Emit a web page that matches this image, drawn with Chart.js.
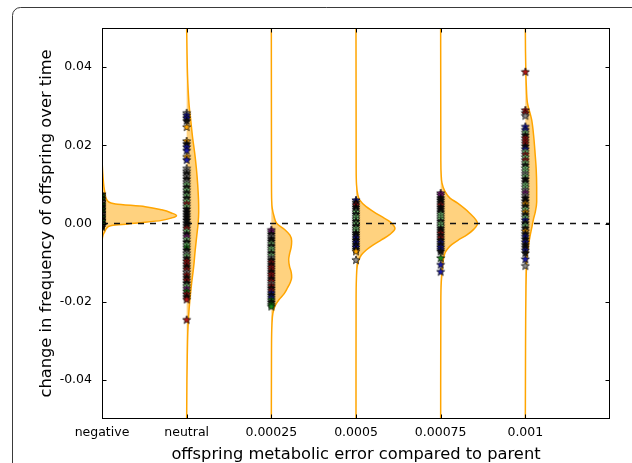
<!DOCTYPE html>
<html><head><meta charset="utf-8">
<script src="https://cdn.jsdelivr.net/npm/chart.js@4"></script>
<style>
html,body{margin:0;padding:0;background:#fff;}
#wrap{position:relative;width:632px;height:463px;overflow:hidden;background:#fff;}
canvas{position:absolute;left:0;top:0;}
</style></head><body>
<div id="wrap"><canvas id="c" width="632" height="463"></canvas></div>
<script>
// ---------------- data ----------------
const categories = ['negative','neutral','0.00025','0.0005','0.00075','0.001'];
const yTicks = [-0.04,-0.02,0,0.02,0.04];

// density (half-violin) outline: y values and widths (x units)
const densY_negative = [0.05,0.016,0.012,0.0095,0.0078,0.0065,0.0056,0.0053,0.0050,0.0043,0.0035,0.0027,0.0020,0.0014,0.0008,0.0003,-0.0001,-0.0005,-0.0012,-0.0020,-0.0030,-0.0045,-0.05];
const densW_negative = [0,0.002,0.012,0.022,0.035,0.047,0.074,0.10,0.16,0.51,0.705,0.82,0.88,0.82,0.705,0.51,0.31,0.114,0.055,0.035,0.012,0.002,0];
const densY_neutral = [0.05,0.044,0.038,0.034,0.030,0.026,0.022,0.018,0.014,0.010,0.006,0.003,0.0,-0.003,-0.007,-0.011,-0.015,-0.0195,-0.024,-0.028,-0.034,-0.040,-0.05];
const densW_neutral = [0,0.004,0.01,0.018,0.03,0.05,0.07,0.095,0.115,0.13,0.14,0.142,0.135,0.12,0.1,0.083,0.06,0.038,0.022,0.013,0.007,0.003,0];
const densY_00025 = [0.05,0.010,0.006,0.004,0.002,0.0,-0.0016,-0.003,-0.0045,-0.006,-0.0078,-0.0093,-0.011,-0.0125,-0.0138,-0.015,-0.0165,-0.018,-0.0195,-0.021,-0.023,-0.026,-0.032,-0.05];
const densW_00025 = [0,0.002,0.004,0.01,0.03,0.065,0.16,0.22,0.24,0.235,0.215,0.205,0.215,0.235,0.24,0.225,0.19,0.15,0.09,0.045,0.018,0.007,0.002,0];
const densY_0005 = [0.05,0.014,0.010,0.0075,0.006,0.0043,0.003,0.0018,0.0003,-0.0013,-0.0028,-0.0042,-0.0055,-0.0067,-0.0080,-0.0095,-0.011,-0.014,-0.02,-0.05];
const densW_0005 = [0,0.002,0.006,0.02,0.045,0.12,0.21,0.3,0.41,0.46,0.4,0.3,0.2,0.125,0.065,0.03,0.014,0.005,0.001,0];
const densY_00075 = [0.05,0.016,0.0125,0.0104,0.0082,0.0065,0.0052,0.0027,0.0,-0.0015,-0.0029,-0.0042,-0.0054,-0.0065,-0.0076,-0.0095,-0.0118,-0.015,-0.02,-0.05];
const densW_00075 = [0,0.002,0.006,0.015,0.05,0.11,0.2,0.34,0.435,0.39,0.31,0.21,0.13,0.08,0.05,0.03,0.02,0.007,0.002,0];
const densY_001 = [0.05,0.044,0.039,0.035,0.031,0.0265,0.022,0.018,0.014,0.0094,0.0055,0.003,0.001,-0.0012,-0.0033,-0.0055,-0.0075,-0.011,-0.016,-0.0246,-0.035,-0.05];
const densW_001 = [0,0.002,0.006,0.012,0.024,0.075,0.1,0.115,0.128,0.134,0.134,0.118,0.095,0.075,0.055,0.038,0.024,0.014,0.008,0.004,0.002,0];

// individual runs (stars)
const stars_negative = [0.0075,0.0071,0.0066,0.0062,0.0058,0.0055,0.0051,0.0048,0.0044,0.0041,0.0037,0.0034,0.0030,0.0027,0.0023,0.0020,0.0016,0.0013,0.0009,0.0006,0.0002,-0.0001,-0.0004,-0.0008];
const stars_neutral = [0.0283,0.0277,0.0270,0.0263,0.0247,0.0211,0.0204,0.0196,0.0187,0.0171,0.0163,
  0.0141,0.0134,0.0128,0.0121,0.0114,0.0107,0.0100,0.0093,0.0086,0.0079,
  0.0072,0.0065,0.0058,0.0051,0.0044,0.0037,0.0030,0.0023,0.0016,0.0009,
  0.0002,-0.0005,-0.0012,-0.0019,-0.0026,-0.0033,-0.0040,-0.0047,-0.0054,-0.0061,
  -0.0068,-0.0075,-0.0082,-0.0089,-0.0096,-0.0103,-0.0110,-0.0117,-0.0124,-0.0131,
  -0.0138,-0.0145,-0.0152,-0.0159,-0.0166,-0.0173,-0.0180,-0.0187,-0.0194,-0.0246];
const stars_00025 = [-0.0016,-0.0021,-0.0027,-0.0033,-0.0039,-0.0045,-0.0051,-0.0057,-0.0063,-0.0069,
  -0.0075,-0.0081,-0.0087,-0.0093,-0.0099,-0.0105,-0.0111,-0.0117,-0.0123,-0.0129,
  -0.0135,-0.0141,-0.0147,-0.0153,-0.0159,-0.0165,-0.0171,-0.0177,-0.0183,-0.0189,
  -0.0195,-0.0201,-0.0207,-0.0212];
const stars_0005 = [0.0060,0.0054,0.0048,0.0042,0.0036,0.0030,0.0024,0.0018,0.0012,0.0006,
  0.0000,-0.0006,-0.0012,-0.0018,-0.0024,-0.0030,-0.0036,-0.0042,-0.0048,-0.0054,
  -0.0060,-0.0066,-0.0071,-0.0093];
const stars_00075 = [0.0078,0.0073,
  0.0066,0.0060,0.0054,0.0048,0.0042,0.0036,0.0030,0.0024,0.0018,0.0012,
  0.0006,0.0000,-0.0006,-0.0012,-0.0018,-0.0024,-0.0030,-0.0036,-0.0042,-0.0048,
  -0.0054,-0.0060,-0.0066,-0.0071,
  -0.0088,-0.0105,-0.0123];
const stars_001 = [0.0388,0.0290,0.0283,0.0276,0.0248,
  0.0240,0.0233,0.0226,0.0219,0.0212,0.0205,0.0198,0.0191,0.0184,0.0177,
  0.0170,0.0163,0.0156,0.0149,0.0142,0.0135,0.0128,0.0121,0.0114,0.0107,
  0.0100,0.0093,0.0086,0.0079,0.0072,0.0065,0.0058,0.0051,0.0044,0.0037,
  0.0030,0.0023,0.0016,0.0009,0.0002,-0.0005,-0.0012,-0.0019,-0.0026,-0.0033,
  -0.0040,-0.0047,-0.0054,-0.0061,-0.0068,-0.0075,
  -0.0091,-0.0108];

// ---------------- style ----------------
const starColorCodes = [
  'kgkgkakgkkgkgkakgkkgkgak',
  'abbkookbbob'+'aakakalklk'+'lklrlkkkkk'+'kkrlkplklg'+'kalkrrkrar'+'krklpgrkr'+'r',
  'ppkakklkll'+'klakrkrrkr'+'rkrarkrbkb'+'gkgg',
  'bkrkklkllk'+'lkllkkbkbk'+'bkoa',
  'pp'+'kkkrkkklll'+'kllkkrkrkb'+'kbbk'+'gbb',
  'rrrab'+'blkrrrkblr'+'lrlkllalk'+'k'+'llapakkokl'+'oklbklkokb'+'kbkkbk'+'ba'
];
const palette = {k:'#111111',a:'#8a8a8a',g:'#1a8a1a',l:'#90ee90',r:'#b01818',b:'#1a1aa8',p:'#8a1a8a',o:'#ffa500'};

function starImg(fill){
  const c=document.createElement('canvas'); c.width=10; c.height=10;
  const g=c.getContext('2d');
  g.beginPath();
  for(let i=0;i<10;i++){const r=i%2?1.8:4.3; const a=-Math.PI/2+i*Math.PI/5; g.lineTo(5+r*Math.cos(a),5.3+r*Math.sin(a));}
  g.closePath(); g.fillStyle=fill; g.fill(); g.lineWidth=0.7; g.strokeStyle='#000'; g.stroke();
  return c;
}
const starImgs = {}; for (const k in palette) starImgs[k] = starImg(palette[k]);

const densY = [densY_negative,densY_neutral,densY_00025,densY_0005,densY_00075,densY_001];
const densW = [densW_negative,densW_neutral,densW_00025,densW_0005,densW_00075,densW_001];
const stars = [stars_negative,stars_neutral,stars_00025,stars_0005,stars_00075,stars_001];

const datasets = [];
categories.forEach((c,i)=>{
  datasets.push({
    type:'line', indexAxis:'y',
    data: densY[i].map((y,j)=>({x:i+densW[i][j], y:y})),
    borderColor:'#FFA500', backgroundColor:'rgba(255,165,0,0.5)', borderWidth:1.5,
    fill:'shape', pointRadius:0, cubicInterpolationMode:'monotone', order:2
  });
});
datasets.push({
  type:'line', data:[{x:0,y:0},{x:6,y:0}], borderColor:'#111', borderWidth:1.3,
  borderDash:[6,6], pointRadius:0, fill:false, order:1
});
categories.forEach((c,i)=>{
  const codes = starColorCodes[i];
  datasets.push({
    type:'scatter', data: stars[i].map(y=>({x:i, y:y})),
    pointStyle: stars[i].map((_,j)=>starImgs[codes[j]||'k']),
    pointRadius:4, clip:0, order:0
  });
});

const frame = {
  id:'frame',
  afterDatasetsDraw(chart){
    const {ctx, chartArea:a, scales:{x,y}} = chart;
    ctx.save();
    ctx.strokeStyle='#000'; ctx.lineWidth=1;
    const L=Math.round(a.left)+0.5, R=Math.round(a.right)-0.5, T=Math.round(a.top)+0.5, B=Math.round(a.bottom)-0.5;
    ctx.strokeRect(L,T,R-L,B-T);
    ctx.beginPath();
    yTicks.forEach(v=>{const p=Math.round(y.getPixelForValue(v))+0.5; ctx.moveTo(L,p); ctx.lineTo(L+4,p); ctx.moveTo(R,p); ctx.lineTo(R-4,p);});
    categories.forEach((c,i)=>{const p=Math.round(x.getPixelForValue(i))+0.5; ctx.moveTo(p,B); ctx.lineTo(p,B-4); ctx.moveTo(p,T); ctx.lineTo(p,T+4);});
    ctx.stroke();
    ctx.restore();
  },
  afterDraw(chart){
    // outer figure panel border (top-left rounded corner only; panel continues past the crop)
    const ctx = chart.ctx;
    ctx.save();
    ctx.strokeStyle='#3a3a3a'; ctx.lineWidth=1;
    ctx.beginPath();
    ctx.moveTo(12.5, chart.height+2);
    ctx.lineTo(12.5, 15.5);
    ctx.arcTo(12.5, 7.5, 20.5, 7.5, 8);
    ctx.lineTo(chart.width+2, 7.5);
    ctx.stroke();
    ctx.restore();
  }
};

const tickFont = {family:'DejaVu Sans', size:12.5};
const titleFont = {family:'DejaVu Sans', size:16.3, lineHeight:1};

new Chart(document.getElementById('c'), {
  type:'scatter',
  data:{datasets},
  options:{
    responsive:false, animation:false, events:[],
    layout:{padding:{top:28,right:22,left:0,bottom:0}},
    plugins:{legend:{display:false}, tooltip:{enabled:false}},
    scales:{
      x:{type:'linear', min:0, max:6,
        grid:{display:false, drawTicks:false}, border:{display:false},
        afterBuildTicks: s=>{ s.ticks = categories.map((_,i)=>({value:i})); },
        afterFit: s=>{ s.height = 44; },
        ticks:{callback: v=>categories[v] ?? '', font:tickFont, color:'#000', padding:6.5, maxRotation:0, autoSkip:false},
        title:{display:true, text:'offspring metabolic error compared to parent', font:titleFont, color:'#000', padding:{top:0,bottom:0}}
      },
      y:{type:'linear', min:-0.05, max:0.05,
        grid:{display:false, drawTicks:false}, border:{display:false},
        afterBuildTicks: s=>{ s.ticks = yTicks.map(v=>({value:v})); },
        afterFit: s=>{ s.width = 102; },
        ticks:{callback: v=>Number(v).toFixed(2), font:tickFont, color:'#000', padding:10},
        title:{display:true, text:'change in frequency of offspring over time', font:titleFont, color:'#000', padding:{top:38.5,bottom:0}}
      }
    }
  },
  plugins:[frame]
});
</script>
</body></html>
